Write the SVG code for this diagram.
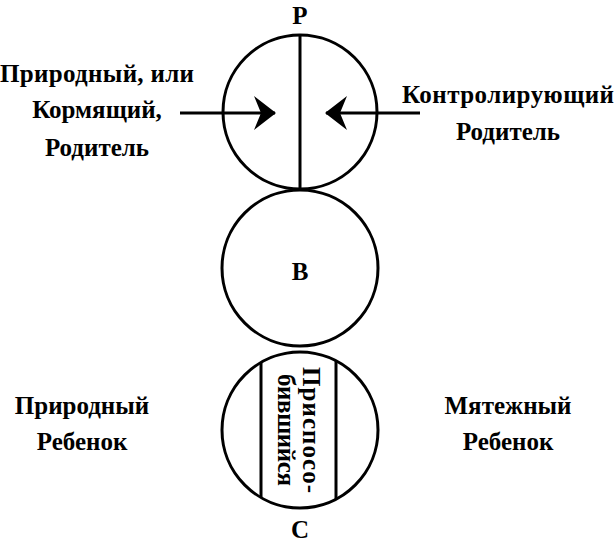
<svg xmlns="http://www.w3.org/2000/svg" width="616" height="544" viewBox="0 0 616 544">
<style>
text{font-family:"Liberation Serif","Times New Roman",serif;font-weight:bold;font-size:25px;fill:#000}
.c{fill:none;stroke:#000;stroke-width:3}
.l{stroke:#000;stroke-width:3;fill:none}
</style>
<defs>
<marker id="a" viewBox="0 0 22 34" refX="21" refY="17" markerWidth="22" markerHeight="34" markerUnits="userSpaceOnUse" orient="auto">
<path d="M0,0 L22,17 L0,34 L7,17 Z" fill="#000"/>
</marker>
</defs>
<rect width="616" height="544" fill="#fff"/>
<g id="parent">
<circle class="c" cx="300" cy="112" r="77"/>
<line class="l" x1="300" y1="35" x2="300" y2="189"/>
<text x="300" y="24" text-anchor="middle">Р</text>
</g>
<g id="adult">
<circle class="c" cx="300" cy="268" r="78"/>
<text x="300" y="280" text-anchor="middle">В</text>
</g>
<g id="child">
<circle class="c" cx="300" cy="430" r="78"/>
<line class="l" x1="261" y1="363" x2="261" y2="497"/>
<line class="l" x1="336" y1="361" x2="336" y2="499"/>
<text transform="translate(303,430) rotate(90)" text-anchor="middle" textLength="126">Приспосо-</text>
<text transform="translate(278,430) rotate(90)" text-anchor="middle" textLength="112">бившийся</text>
<text x="300" y="538" text-anchor="middle">С</text>
</g>
<g id="labels">
<text x="97" y="82" text-anchor="middle" textLength="194">Природный, или</text>
<text x="97" y="118" text-anchor="middle">Кормящий,</text>
<text x="97" y="156" text-anchor="middle">Родитель</text>
<text x="508" y="103" text-anchor="middle" textLength="212">Контролирующий</text>
<text x="508" y="140" text-anchor="middle">Родитель</text>
<text x="82" y="414" text-anchor="middle">Природный</text>
<text x="82" y="450" text-anchor="middle">Ребенок</text>
<text x="508" y="414" text-anchor="middle">Мятежный</text>
<text x="508" y="450" text-anchor="middle">Ребенок</text>
</g>
<g id="connectors">
<line class="l" x1="180" y1="113" x2="275" y2="113" marker-end="url(#a)"/>
<line class="l" x1="420" y1="113" x2="326" y2="113" marker-end="url(#a)"/>
</g>
</svg>
